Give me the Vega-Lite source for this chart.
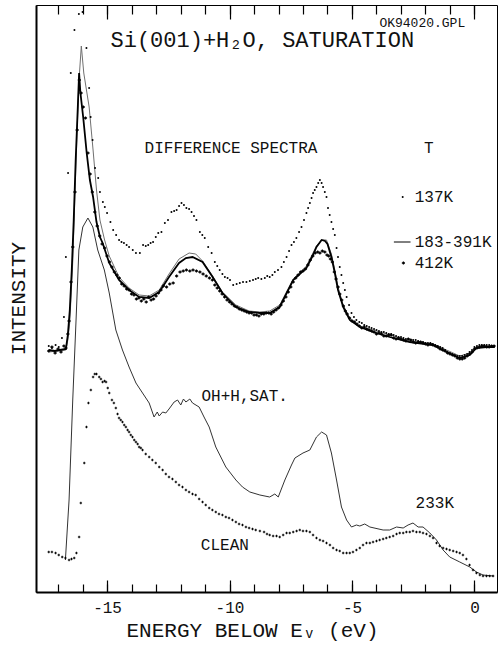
{
  "$schema": "https://vega.github.io/schema/vega-lite/v6.json",
  "width": 461,
  "height": 587,
  "autosize": {"type": "none"},
  "padding": {"left": 36, "top": 5, "right": 2, "bottom": 53},
  "background": "white",
  "config": {
    "font": "Liberation Mono",
    "view": {"stroke": "black", "strokeWidth": 1},
    "axis": {"grid": false, "labelFont": "Liberation Mono", "titleFont": "Liberation Mono", "labelColor": "#111111", "titleColor": "#111111", "tickColor": "black", "domainColor": "black", "titleFontWeight": "normal", "tickWidth": 1.2, "zindex": 2},
    "axisY": {"ticks": false, "labels": false, "domainWidth": 2, "titleFontSize": 21, "titleX": -18, "titleY": 293, "titleAngle": -90, "titleBaseline": "middle", "titleAlign": "center", "titlePadding": 0}
  },
  "datasets": {
    "s183a": [
      {"energy": -17.38, "intensity": 242}, {"energy": -17.13, "intensity": 241}, {"energy": -16.93, "intensity": 242}, {"energy": -16.68, "intensity": 243},
      {"energy": -16.60, "intensity": 257}, {"energy": -16.52, "intensity": 282}, {"energy": -16.44, "intensity": 322}, {"energy": -16.36, "intensity": 372},
      {"energy": -16.28, "intensity": 432}, {"energy": -16.19, "intensity": 487}, {"energy": -16.14, "intensity": 519}, {"energy": -16.09, "intensity": 500},
      {"energy": -15.97, "intensity": 474}, {"energy": -15.83, "intensity": 439}, {"energy": -15.70, "intensity": 412}, {"energy": -15.57, "intensity": 395},
      {"energy": -15.43, "intensity": 370}, {"energy": -15.29, "intensity": 355}, {"energy": -15.18, "intensity": 349}, {"energy": -14.91, "intensity": 329},
      {"energy": -14.51, "intensity": 312}, {"energy": -14.10, "intensity": 302}, {"energy": -13.69, "intensity": 295}, {"energy": -13.28, "intensity": 294},
      {"energy": -12.87, "intensity": 300}, {"energy": -12.47, "intensity": 315}, {"energy": -12.06, "intensity": 329}, {"energy": -11.78, "intensity": 334},
      {"energy": -11.51, "intensity": 335}, {"energy": -11.10, "intensity": 330}, {"energy": -10.69, "intensity": 315}, {"energy": -10.29, "intensity": 299},
      {"energy": -9.74, "intensity": 285}, {"energy": -9.20, "intensity": 280}, {"energy": -8.76, "intensity": 279}, {"energy": -8.36, "intensity": 279},
      {"energy": -7.95, "intensity": 285}, {"energy": -7.40, "intensity": 312}, {"energy": -6.86, "intensity": 324}, {"energy": -6.59, "intensity": 337},
      {"energy": -6.45, "intensity": 345}, {"energy": -6.24, "intensity": 352}, {"energy": -6.10, "intensity": 351}, {"energy": -6.00, "intensity": 348},
      {"energy": -5.84, "intensity": 335}, {"energy": -5.70, "intensity": 319}, {"energy": -5.57, "intensity": 302}, {"energy": -5.36, "intensity": 285},
      {"energy": -5.09, "intensity": 272}, {"energy": -4.68, "intensity": 265}, {"energy": -4.14, "intensity": 260}, {"energy": -3.46, "intensity": 255},
      {"energy": -2.64, "intensity": 250}, {"energy": -1.69, "intensity": 247}, {"energy": -1.14, "intensity": 240}, {"energy": -0.60, "intensity": 234},
      {"energy": -0.19, "intensity": 237}, {"energy": 0.08, "intensity": 244}, {"energy": 0.49, "intensity": 245}, {"energy": 0.83, "intensity": 245}
    ],
    "s183b": [
      {"energy": -17.38, "intensity": 240}, {"energy": -16.68, "intensity": 242}, {"energy": -16.60, "intensity": 252}, {"energy": -16.52, "intensity": 270},
      {"energy": -16.40, "intensity": 330}, {"energy": -16.28, "intensity": 420}, {"energy": -16.15, "intensity": 510}, {"energy": -16.05, "intensity": 546},
      {"energy": -15.95, "intensity": 519}, {"energy": -15.73, "intensity": 485}, {"energy": -15.57, "intensity": 442}, {"energy": -15.43, "intensity": 402},
      {"energy": -15.29, "intensity": 372}, {"energy": -15.10, "intensity": 352}, {"energy": -14.91, "intensity": 336}, {"energy": -14.51, "intensity": 315},
      {"energy": -14.10, "intensity": 304}, {"energy": -13.69, "intensity": 297}, {"energy": -13.28, "intensity": 296}, {"energy": -12.87, "intensity": 302},
      {"energy": -12.47, "intensity": 318}, {"energy": -12.06, "intensity": 333}, {"energy": -11.65, "intensity": 339}, {"energy": -11.38, "intensity": 338},
      {"energy": -11.10, "intensity": 331}, {"energy": -10.69, "intensity": 316}, {"energy": -10.29, "intensity": 300}, {"energy": -9.74, "intensity": 287},
      {"energy": -9.20, "intensity": 281}, {"energy": -8.76, "intensity": 280}, {"energy": -8.36, "intensity": 281}, {"energy": -7.95, "intensity": 287},
      {"energy": -7.40, "intensity": 313}, {"energy": -6.86, "intensity": 326}, {"energy": -6.45, "intensity": 346}, {"energy": -6.24, "intensity": 352},
      {"energy": -6.04, "intensity": 352}, {"energy": -5.84, "intensity": 338}, {"energy": -5.70, "intensity": 322}, {"energy": -5.57, "intensity": 305},
      {"energy": -5.36, "intensity": 287}, {"energy": -5.09, "intensity": 274}, {"energy": -4.68, "intensity": 266}, {"energy": -4.14, "intensity": 262},
      {"energy": -3.46, "intensity": 257}, {"energy": -2.64, "intensity": 251}, {"energy": -1.69, "intensity": 248}, {"energy": -1.14, "intensity": 242},
      {"energy": -0.60, "intensity": 236}, {"energy": -0.19, "intensity": 239}, {"energy": 0.08, "intensity": 245}, {"energy": 0.49, "intensity": 246},
      {"energy": 0.83, "intensity": 246}
    ],
    "s412": [
      {"energy": -17.38, "intensity": 241}, {"energy": -17.25, "intensity": 245}, {"energy": -17.12, "intensity": 239}, {"energy": -17.00, "intensity": 243},
      {"energy": -16.88, "intensity": 240}, {"energy": -16.76, "intensity": 246}, {"energy": -16.68, "intensity": 244}, {"energy": -16.60, "intensity": 258},
      {"energy": -16.55, "intensity": 271}, {"energy": -16.47, "intensity": 310}, {"energy": -16.40, "intensity": 345}, {"energy": -16.31, "intensity": 400},
      {"energy": -16.22, "intensity": 462}, {"energy": -16.13, "intensity": 512}, {"energy": -16.06, "intensity": 499}, {"energy": -15.97, "intensity": 485},
      {"energy": -15.88, "intensity": 474}, {"energy": -15.78, "intensity": 439}, {"energy": -15.69, "intensity": 418}, {"energy": -15.60, "intensity": 400},
      {"energy": -15.50, "intensity": 380}, {"energy": -15.40, "intensity": 366}, {"energy": -15.30, "intensity": 356}, {"energy": -15.20, "intensity": 348},
      {"energy": -15.10, "intensity": 344}, {"energy": -15.00, "intensity": 336}, {"energy": -14.90, "intensity": 330}, {"energy": -14.80, "intensity": 325},
      {"energy": -14.70, "intensity": 320}, {"energy": -14.60, "intensity": 317}, {"energy": -14.50, "intensity": 314}, {"energy": -14.40, "intensity": 308},
      {"energy": -14.30, "intensity": 306}, {"energy": -14.20, "intensity": 303}, {"energy": -14.10, "intensity": 302}, {"energy": -14.00, "intensity": 298},
      {"energy": -13.90, "intensity": 297}, {"energy": -13.80, "intensity": 293}, {"energy": -13.70, "intensity": 294}, {"energy": -13.60, "intensity": 291},
      {"energy": -13.50, "intensity": 293}, {"energy": -13.40, "intensity": 290}, {"energy": -13.30, "intensity": 295}, {"energy": -13.20, "intensity": 292},
      {"energy": -13.10, "intensity": 293}, {"energy": -13.00, "intensity": 296}, {"energy": -12.90, "intensity": 299}, {"energy": -12.80, "intensity": 302},
      {"energy": -12.70, "intensity": 306}, {"energy": -12.57, "intensity": 305}, {"energy": -12.44, "intensity": 308}, {"energy": -12.30, "intensity": 309},
      {"energy": -12.16, "intensity": 316}, {"energy": -12.02, "intensity": 320}, {"energy": -11.89, "intensity": 321}, {"energy": -11.76, "intensity": 322},
      {"energy": -11.62, "intensity": 321}, {"energy": -11.49, "intensity": 322}, {"energy": -11.35, "intensity": 321}, {"energy": -11.21, "intensity": 320},
      {"energy": -11.08, "intensity": 318}, {"energy": -10.95, "intensity": 316}, {"energy": -10.82, "intensity": 314}, {"energy": -10.70, "intensity": 312},
      {"energy": -10.60, "intensity": 307}, {"energy": -10.50, "intensity": 304}, {"energy": -10.40, "intensity": 301}, {"energy": -10.30, "intensity": 298},
      {"energy": -10.20, "intensity": 295}, {"energy": -10.10, "intensity": 292}, {"energy": -10.00, "intensity": 290}, {"energy": -9.90, "intensity": 288},
      {"energy": -9.80, "intensity": 286}, {"energy": -9.70, "intensity": 285}, {"energy": -9.60, "intensity": 283}, {"energy": -9.50, "intensity": 282},
      {"energy": -9.40, "intensity": 281}, {"energy": -9.30, "intensity": 280}, {"energy": -9.20, "intensity": 279}, {"energy": -9.10, "intensity": 279},
      {"energy": -9.00, "intensity": 277}, {"energy": -8.90, "intensity": 277}, {"energy": -8.80, "intensity": 276}, {"energy": -8.70, "intensity": 278},
      {"energy": -8.60, "intensity": 278}, {"energy": -8.50, "intensity": 279}, {"energy": -8.40, "intensity": 279}, {"energy": -8.30, "intensity": 278},
      {"energy": -8.20, "intensity": 280}, {"energy": -8.10, "intensity": 282}, {"energy": -8.00, "intensity": 284}, {"energy": -7.90, "intensity": 287},
      {"energy": -7.80, "intensity": 291}, {"energy": -7.70, "intensity": 295}, {"energy": -7.60, "intensity": 300}, {"energy": -7.50, "intensity": 305},
      {"energy": -7.40, "intensity": 310}, {"energy": -7.30, "intensity": 314}, {"energy": -7.20, "intensity": 317}, {"energy": -7.10, "intensity": 320},
      {"energy": -7.00, "intensity": 321}, {"energy": -6.90, "intensity": 323}, {"energy": -6.80, "intensity": 327}, {"energy": -6.70, "intensity": 332},
      {"energy": -6.60, "intensity": 336}, {"energy": -6.50, "intensity": 339}, {"energy": -6.40, "intensity": 340}, {"energy": -6.31, "intensity": 339},
      {"energy": -6.21, "intensity": 341}, {"energy": -6.11, "intensity": 340}, {"energy": -6.02, "intensity": 337}, {"energy": -5.95, "intensity": 336},
      {"energy": -5.88, "intensity": 333}, {"energy": -5.80, "intensity": 330}, {"energy": -5.72, "intensity": 320}, {"energy": -5.65, "intensity": 313},
      {"energy": -5.57, "intensity": 305}, {"energy": -5.50, "intensity": 298}, {"energy": -5.42, "intensity": 292}, {"energy": -5.35, "intensity": 286},
      {"energy": -5.27, "intensity": 281}, {"energy": -5.20, "intensity": 278}, {"energy": -5.10, "intensity": 274}, {"energy": -5.00, "intensity": 271},
      {"energy": -4.90, "intensity": 270}, {"energy": -4.80, "intensity": 268}, {"energy": -4.70, "intensity": 266}, {"energy": -4.60, "intensity": 264},
      {"energy": -4.50, "intensity": 265}, {"energy": -4.40, "intensity": 263}, {"energy": -4.30, "intensity": 262}, {"energy": -4.20, "intensity": 261},
      {"energy": -4.10, "intensity": 260}, {"energy": -4.00, "intensity": 258}, {"energy": -3.90, "intensity": 259}, {"energy": -3.80, "intensity": 258},
      {"energy": -3.70, "intensity": 256}, {"energy": -3.60, "intensity": 256}, {"energy": -3.50, "intensity": 257}, {"energy": -3.40, "intensity": 257},
      {"energy": -3.30, "intensity": 254}, {"energy": -3.20, "intensity": 253}, {"energy": -3.10, "intensity": 254}, {"energy": -3.00, "intensity": 253},
      {"energy": -2.90, "intensity": 252}, {"energy": -2.80, "intensity": 251}, {"energy": -2.70, "intensity": 253}, {"energy": -2.60, "intensity": 252},
      {"energy": -2.50, "intensity": 250}, {"energy": -2.40, "intensity": 249}, {"energy": -2.30, "intensity": 250}, {"energy": -2.20, "intensity": 250},
      {"energy": -2.10, "intensity": 249}, {"energy": -2.00, "intensity": 248}, {"energy": -1.90, "intensity": 247}, {"energy": -1.80, "intensity": 248},
      {"energy": -1.70, "intensity": 247}, {"energy": -1.60, "intensity": 246}, {"energy": -1.50, "intensity": 245}, {"energy": -1.40, "intensity": 243},
      {"energy": -1.30, "intensity": 242}, {"energy": -1.20, "intensity": 241}, {"energy": -1.10, "intensity": 239}, {"energy": -1.00, "intensity": 238},
      {"energy": -0.90, "intensity": 237}, {"energy": -0.80, "intensity": 236}, {"energy": -0.70, "intensity": 234}, {"energy": -0.60, "intensity": 233},
      {"energy": -0.50, "intensity": 233}, {"energy": -0.40, "intensity": 234}, {"energy": -0.30, "intensity": 236}, {"energy": -0.20, "intensity": 238},
      {"energy": -0.10, "intensity": 240}, {"energy": 0.00, "intensity": 243}, {"energy": 0.10, "intensity": 244}, {"energy": 0.20, "intensity": 245},
      {"energy": 0.30, "intensity": 246}, {"energy": 0.40, "intensity": 246}, {"energy": 0.50, "intensity": 245}, {"energy": 0.60, "intensity": 245},
      {"energy": 0.70, "intensity": 246}, {"energy": 0.80, "intensity": 246}
    ],
    "s137": [
      {"energy": -17.38, "intensity": 246}, {"energy": -17.25, "intensity": 244}, {"energy": -17.10, "intensity": 247}, {"energy": -16.97, "intensity": 245},
      {"energy": -16.84, "intensity": 254}, {"energy": -16.76, "intensity": 275}, {"energy": -16.68, "intensity": 335}, {"energy": -16.59, "intensity": 419},
      {"energy": -16.48, "intensity": 519}, {"energy": -16.33, "intensity": 562}, {"energy": -16.15, "intensity": 578}, {"energy": -16.00, "intensity": 580},
      {"energy": -15.84, "intensity": 544}, {"energy": -15.73, "intensity": 504}, {"energy": -15.67, "intensity": 475}, {"energy": -15.59, "intensity": 452},
      {"energy": -15.49, "intensity": 424}, {"energy": -15.36, "intensity": 414}, {"energy": -15.29, "intensity": 400}, {"energy": -15.17, "intensity": 390},
      {"energy": -15.09, "intensity": 385}, {"energy": -15.00, "intensity": 379}, {"energy": -14.86, "intensity": 370}, {"energy": -14.75, "intensity": 362},
      {"energy": -14.63, "intensity": 357}, {"energy": -14.51, "intensity": 352}, {"energy": -14.41, "intensity": 350}, {"energy": -14.31, "intensity": 349},
      {"energy": -14.20, "intensity": 347}, {"energy": -14.10, "intensity": 345}, {"energy": -13.95, "intensity": 342}, {"energy": -13.82, "intensity": 339},
      {"energy": -13.66, "intensity": 339}, {"energy": -13.53, "intensity": 347}, {"energy": -13.42, "intensity": 346}, {"energy": -13.32, "intensity": 347},
      {"energy": -13.22, "intensity": 349}, {"energy": -13.12, "intensity": 350}, {"energy": -13.01, "intensity": 355}, {"energy": -12.91, "intensity": 359},
      {"energy": -12.78, "intensity": 360}, {"energy": -12.64, "intensity": 369}, {"energy": -12.51, "intensity": 372}, {"energy": -12.37, "intensity": 380},
      {"energy": -12.26, "intensity": 381}, {"energy": -12.16, "intensity": 382}, {"energy": -12.06, "intensity": 386}, {"energy": -11.96, "intensity": 389},
      {"energy": -11.86, "intensity": 387}, {"energy": -11.76, "intensity": 384}, {"energy": -11.65, "intensity": 383}, {"energy": -11.55, "intensity": 380},
      {"energy": -11.45, "intensity": 376}, {"energy": -11.35, "intensity": 372}, {"energy": -11.21, "intensity": 360}, {"energy": -11.11, "intensity": 357},
      {"energy": -11.01, "intensity": 354}, {"energy": -10.87, "intensity": 345}, {"energy": -10.73, "intensity": 339}, {"energy": -10.60, "intensity": 330},
      {"energy": -10.50, "intensity": 326}, {"energy": -10.40, "intensity": 322}, {"energy": -10.29, "intensity": 318}, {"energy": -10.19, "intensity": 315},
      {"energy": -10.08, "intensity": 314}, {"energy": -9.98, "intensity": 312}, {"energy": -9.85, "intensity": 307}, {"energy": -9.71, "intensity": 308},
      {"energy": -9.58, "intensity": 309}, {"energy": -9.45, "intensity": 310}, {"energy": -9.31, "intensity": 310}, {"energy": -9.17, "intensity": 311},
      {"energy": -9.04, "intensity": 312}, {"energy": -8.93, "intensity": 313}, {"energy": -8.83, "intensity": 314}, {"energy": -8.70, "intensity": 313},
      {"energy": -8.56, "intensity": 314}, {"energy": -8.46, "intensity": 316}, {"energy": -8.36, "intensity": 315}, {"energy": -8.25, "intensity": 317},
      {"energy": -8.15, "intensity": 320}, {"energy": -8.02, "intensity": 322}, {"energy": -7.88, "intensity": 325}, {"energy": -7.78, "intensity": 330},
      {"energy": -7.67, "intensity": 335}, {"energy": -7.57, "intensity": 341}, {"energy": -7.47, "intensity": 347}, {"energy": -7.37, "intensity": 350},
      {"energy": -7.27, "intensity": 354}, {"energy": -7.16, "intensity": 360}, {"energy": -7.06, "intensity": 365}, {"energy": -6.96, "intensity": 372},
      {"energy": -6.86, "intensity": 379}, {"energy": -6.79, "intensity": 384}, {"energy": -6.72, "intensity": 389}, {"energy": -6.65, "intensity": 394},
      {"energy": -6.59, "intensity": 399}, {"energy": -6.52, "intensity": 402}, {"energy": -6.45, "intensity": 405}, {"energy": -6.38, "intensity": 409},
      {"energy": -6.31, "intensity": 412}, {"energy": -6.24, "intensity": 409}, {"energy": -6.18, "intensity": 405}, {"energy": -6.11, "intensity": 400},
      {"energy": -6.04, "intensity": 395}, {"energy": -5.98, "intensity": 384}, {"energy": -5.91, "intensity": 377}, {"energy": -5.84, "intensity": 370},
      {"energy": -5.77, "intensity": 363}, {"energy": -5.70, "intensity": 357}, {"energy": -5.63, "intensity": 344}, {"energy": -5.57, "intensity": 335},
      {"energy": -5.50, "intensity": 325}, {"energy": -5.43, "intensity": 317}, {"energy": -5.36, "intensity": 309}, {"energy": -5.29, "intensity": 302},
      {"energy": -5.22, "intensity": 295}, {"energy": -5.12, "intensity": 287}, {"energy": -5.02, "intensity": 279}, {"energy": -4.92, "intensity": 275},
      {"energy": -4.82, "intensity": 272}, {"energy": -4.70, "intensity": 270}, {"energy": -4.60, "intensity": 269}, {"energy": -4.50, "intensity": 267},
      {"energy": -4.40, "intensity": 266}, {"energy": -4.30, "intensity": 265}, {"energy": -4.20, "intensity": 264}, {"energy": -4.10, "intensity": 263},
      {"energy": -4.00, "intensity": 262}, {"energy": -3.90, "intensity": 261}, {"energy": -3.80, "intensity": 260}, {"energy": -3.70, "intensity": 260},
      {"energy": -3.60, "intensity": 259}, {"energy": -3.50, "intensity": 258}, {"energy": -3.40, "intensity": 258}, {"energy": -3.30, "intensity": 257},
      {"energy": -3.20, "intensity": 256}, {"energy": -3.10, "intensity": 255}, {"energy": -3.00, "intensity": 255}, {"energy": -2.90, "intensity": 254},
      {"energy": -2.80, "intensity": 253}, {"energy": -2.70, "intensity": 253}, {"energy": -2.60, "intensity": 252}, {"energy": -2.50, "intensity": 252},
      {"energy": -2.40, "intensity": 252}, {"energy": -2.30, "intensity": 251}, {"energy": -2.20, "intensity": 250}, {"energy": -2.10, "intensity": 250},
      {"energy": -2.00, "intensity": 249}, {"energy": -1.90, "intensity": 249}, {"energy": -1.80, "intensity": 249}, {"energy": -1.70, "intensity": 248},
      {"energy": -1.60, "intensity": 247}, {"energy": -1.50, "intensity": 246}, {"energy": -1.40, "intensity": 245}, {"energy": -1.30, "intensity": 244},
      {"energy": -1.20, "intensity": 242}, {"energy": -1.10, "intensity": 240}, {"energy": -1.00, "intensity": 239}, {"energy": -0.90, "intensity": 238},
      {"energy": -0.80, "intensity": 237}, {"energy": -0.70, "intensity": 236}, {"energy": -0.60, "intensity": 236}, {"energy": -0.50, "intensity": 236},
      {"energy": -0.40, "intensity": 237}, {"energy": -0.30, "intensity": 238}, {"energy": -0.20, "intensity": 240}, {"energy": -0.10, "intensity": 242},
      {"energy": 0.00, "intensity": 245}, {"energy": 0.10, "intensity": 246}, {"energy": 0.20, "intensity": 247}, {"energy": 0.30, "intensity": 247},
      {"energy": 0.40, "intensity": 247}, {"energy": 0.50, "intensity": 247}, {"energy": 0.60, "intensity": 247}, {"energy": 0.70, "intensity": 246},
      {"energy": 0.80, "intensity": 246}
    ],
    "oh": [
      {"energy": -16.70, "intensity": 32}, {"energy": -16.55, "intensity": 92}, {"energy": -16.40, "intensity": 192}, {"energy": -16.26, "intensity": 275},
      {"energy": -16.15, "intensity": 342}, {"energy": -15.99, "intensity": 365}, {"energy": -15.78, "intensity": 374}, {"energy": -15.58, "intensity": 365},
      {"energy": -15.38, "intensity": 342}, {"energy": -15.11, "intensity": 322}, {"energy": -14.91, "intensity": 299}, {"energy": -14.64, "intensity": 262},
      {"energy": -14.37, "intensity": 242}, {"energy": -14.10, "intensity": 225}, {"energy": -13.82, "intensity": 209}, {"energy": -13.55, "intensity": 199},
      {"energy": -13.28, "intensity": 189}, {"energy": -13.08, "intensity": 175}, {"energy": -12.95, "intensity": 180}, {"energy": -12.87, "intensity": 176},
      {"energy": -12.73, "intensity": 180}, {"energy": -12.60, "intensity": 179}, {"energy": -12.47, "intensity": 183}, {"energy": -12.26, "intensity": 190},
      {"energy": -12.12, "intensity": 192}, {"energy": -11.99, "intensity": 187}, {"energy": -11.88, "intensity": 193}, {"energy": -11.78, "intensity": 190},
      {"energy": -11.62, "intensity": 193}, {"energy": -11.51, "intensity": 189}, {"energy": -11.24, "intensity": 185}, {"energy": -11.04, "intensity": 175},
      {"energy": -10.83, "intensity": 165}, {"energy": -10.56, "intensity": 145}, {"energy": -10.15, "intensity": 125}, {"energy": -9.74, "intensity": 112},
      {"energy": -9.47, "intensity": 105}, {"energy": -9.17, "intensity": 100}, {"energy": -8.76, "intensity": 97}, {"energy": -8.36, "intensity": 95},
      {"energy": -8.15, "intensity": 98}, {"energy": -8.01, "intensity": 95}, {"energy": -7.74, "intensity": 112}, {"energy": -7.47, "intensity": 127},
      {"energy": -7.33, "intensity": 134}, {"energy": -7.00, "intensity": 139}, {"energy": -6.72, "intensity": 142}, {"energy": -6.45, "intensity": 155},
      {"energy": -6.24, "intensity": 160}, {"energy": -6.04, "intensity": 157}, {"energy": -5.84, "intensity": 139}, {"energy": -5.63, "intensity": 112},
      {"energy": -5.43, "intensity": 85}, {"energy": -5.22, "intensity": 72}, {"energy": -5.02, "intensity": 65}, {"energy": -4.82, "intensity": 67},
      {"energy": -4.68, "intensity": 66}, {"energy": -4.48, "intensity": 68}, {"energy": -4.27, "intensity": 65}, {"energy": -3.73, "intensity": 62},
      {"energy": -3.46, "intensity": 62}, {"energy": -3.18, "intensity": 65}, {"energy": -2.91, "intensity": 64}, {"energy": -2.71, "intensity": 67},
      {"energy": -2.51, "intensity": 69}, {"energy": -2.30, "intensity": 65}, {"energy": -2.10, "intensity": 65}, {"energy": -1.82, "intensity": 59},
      {"energy": -1.55, "intensity": 52}, {"energy": -1.28, "intensity": 42}, {"energy": -1.01, "intensity": 35}, {"energy": -0.60, "intensity": 30},
      {"energy": -0.19, "intensity": 25}, {"energy": 0.08, "intensity": 20}, {"energy": 0.35, "intensity": 17}, {"energy": 0.76, "intensity": 16}
    ],
    "clean": [
      {"energy": -17.38, "intensity": 40}, {"energy": -17.25, "intensity": 40}, {"energy": -17.10, "intensity": 39}, {"energy": -16.97, "intensity": 37},
      {"energy": -16.83, "intensity": 35}, {"energy": -16.70, "intensity": 34}, {"energy": -16.55, "intensity": 32}, {"energy": -16.45, "intensity": 33},
      {"energy": -16.34, "intensity": 34}, {"energy": -16.25, "intensity": 39}, {"energy": -16.14, "intensity": 55}, {"energy": -16.07, "intensity": 89},
      {"energy": -15.93, "intensity": 129}, {"energy": -15.84, "intensity": 165}, {"energy": -15.76, "intensity": 189}, {"energy": -15.66, "intensity": 202},
      {"energy": -15.57, "intensity": 215}, {"energy": -15.50, "intensity": 218}, {"energy": -15.43, "intensity": 218}, {"energy": -15.32, "intensity": 215},
      {"energy": -15.25, "intensity": 213}, {"energy": -15.18, "intensity": 210}, {"energy": -15.10, "intensity": 211}, {"energy": -15.04, "intensity": 210},
      {"energy": -14.97, "intensity": 204}, {"energy": -14.91, "intensity": 199}, {"energy": -14.80, "intensity": 192}, {"energy": -14.72, "intensity": 189},
      {"energy": -14.64, "intensity": 184}, {"energy": -14.57, "intensity": 178}, {"energy": -14.51, "intensity": 174}, {"energy": -14.44, "intensity": 172},
      {"energy": -14.37, "intensity": 170}, {"energy": -14.30, "intensity": 167}, {"energy": -14.23, "intensity": 165}, {"energy": -14.16, "intensity": 162},
      {"energy": -14.10, "intensity": 160}, {"energy": -14.03, "intensity": 157}, {"energy": -13.96, "intensity": 155}, {"energy": -13.89, "intensity": 152},
      {"energy": -13.82, "intensity": 150}, {"energy": -13.75, "intensity": 148}, {"energy": -13.69, "intensity": 145}, {"energy": -13.62, "intensity": 144},
      {"energy": -13.55, "intensity": 142}, {"energy": -13.42, "intensity": 138}, {"energy": -13.28, "intensity": 135}, {"energy": -13.15, "intensity": 132},
      {"energy": -13.01, "intensity": 129}, {"energy": -12.87, "intensity": 125}, {"energy": -12.73, "intensity": 122}, {"energy": -12.60, "intensity": 118},
      {"energy": -12.47, "intensity": 115}, {"energy": -12.33, "intensity": 113}, {"energy": -12.19, "intensity": 110}, {"energy": -12.06, "intensity": 107},
      {"energy": -11.92, "intensity": 105}, {"energy": -11.78, "intensity": 102}, {"energy": -11.65, "intensity": 100}, {"energy": -11.51, "intensity": 98},
      {"energy": -11.38, "intensity": 97}, {"energy": -11.24, "intensity": 93}, {"energy": -11.10, "intensity": 90}, {"energy": -10.97, "intensity": 87},
      {"energy": -10.83, "intensity": 84}, {"energy": -10.70, "intensity": 82}, {"energy": -10.56, "intensity": 80}, {"energy": -10.43, "intensity": 78},
      {"energy": -10.29, "intensity": 77}, {"energy": -10.15, "intensity": 75}, {"energy": -10.02, "intensity": 74}, {"energy": -9.88, "intensity": 72},
      {"energy": -9.74, "intensity": 70}, {"energy": -9.61, "intensity": 68}, {"energy": -9.47, "intensity": 67}, {"energy": -9.33, "intensity": 65},
      {"energy": -9.20, "intensity": 64}, {"energy": -9.06, "intensity": 63}, {"energy": -8.93, "intensity": 62}, {"energy": -8.76, "intensity": 61},
      {"energy": -8.59, "intensity": 60}, {"energy": -8.47, "intensity": 58}, {"energy": -8.36, "intensity": 57}, {"energy": -8.22, "intensity": 56},
      {"energy": -8.08, "intensity": 56}, {"energy": -7.95, "intensity": 55}, {"energy": -7.81, "intensity": 57}, {"energy": -7.67, "intensity": 59},
      {"energy": -7.54, "intensity": 59}, {"energy": -7.40, "intensity": 60}, {"energy": -7.26, "intensity": 61}, {"energy": -7.13, "intensity": 62},
      {"energy": -7.00, "intensity": 61}, {"energy": -6.86, "intensity": 61}, {"energy": -6.72, "intensity": 60}, {"energy": -6.59, "intensity": 57},
      {"energy": -6.45, "intensity": 54}, {"energy": -6.31, "intensity": 52}, {"energy": -6.18, "intensity": 51}, {"energy": -6.04, "intensity": 49},
      {"energy": -5.90, "intensity": 47}, {"energy": -5.77, "intensity": 44}, {"energy": -5.63, "intensity": 42}, {"energy": -5.50, "intensity": 41},
      {"energy": -5.36, "intensity": 39}, {"energy": -5.22, "intensity": 39}, {"energy": -5.09, "intensity": 39}, {"energy": -4.96, "intensity": 40},
      {"energy": -4.82, "intensity": 42}, {"energy": -4.68, "intensity": 44}, {"energy": -4.55, "intensity": 47}, {"energy": -4.41, "intensity": 49},
      {"energy": -4.27, "intensity": 49}, {"energy": -4.14, "intensity": 50}, {"energy": -4.00, "intensity": 51}, {"energy": -3.87, "intensity": 52},
      {"energy": -3.73, "intensity": 53}, {"energy": -3.60, "intensity": 54}, {"energy": -3.46, "intensity": 55}, {"energy": -3.32, "intensity": 56},
      {"energy": -3.18, "intensity": 58}, {"energy": -3.05, "intensity": 59}, {"energy": -2.91, "intensity": 59}, {"energy": -2.78, "intensity": 60},
      {"energy": -2.64, "intensity": 60}, {"energy": -2.51, "intensity": 61}, {"energy": -2.37, "intensity": 60}, {"energy": -2.23, "intensity": 60},
      {"energy": -2.10, "intensity": 59}, {"energy": -1.96, "intensity": 58}, {"energy": -1.82, "intensity": 56}, {"energy": -1.69, "intensity": 54},
      {"energy": -1.55, "intensity": 49}, {"energy": -1.42, "intensity": 46}, {"energy": -1.28, "intensity": 44}, {"energy": -1.14, "intensity": 43},
      {"energy": -1.01, "intensity": 42}, {"energy": -0.87, "intensity": 41}, {"energy": -0.73, "intensity": 40}, {"energy": -0.60, "intensity": 39},
      {"energy": -0.47, "intensity": 37}, {"energy": -0.33, "intensity": 33}, {"energy": -0.20, "intensity": 27}, {"energy": -0.06, "intensity": 22},
      {"energy": 0.08, "intensity": 19}, {"energy": 0.22, "intensity": 17}, {"energy": 0.35, "intensity": 16}, {"energy": 0.49, "intensity": 16},
      {"energy": 0.62, "intensity": 16}, {"energy": 0.76, "intensity": 16}
    ]
  },
  "resolve": {"axis": {"x": "independent"}},
  "layer": [
    {
      "data": {"name": "s183b"},
      "mark": {"type": "line", "color": "#707070", "strokeWidth": 1},
      "encoding": {
        "x": {"field": "energy", "type": "quantitative", "scale": {"domain": [-17.9, 0.92], "nice": false, "zero": false},
              "axis": {"orient": "bottom", "values": [-17,-16,-15,-14,-13,-12,-11,-10,-9,-8,-7,-6,-5,-4,-3,-2,-1,0], "tickSize": 8, "offset": -8, "labels": false, "domain": false, "title": null}},
        "y": {"field": "intensity", "type": "quantitative", "scale": {"domain": [0, 587], "nice": false, "zero": false}, "title": "INTENSITY"}
      }
    },
    {
      "data": {"name": "s183a"},
      "mark": {"type": "line", "color": "black", "strokeWidth": 1.8},
      "encoding": {
        "x": {"field": "energy", "type": "quantitative", "scale": {"domain": [-17.9, 0.92], "nice": false, "zero": false},
              "axis": {"orient": "top", "values": [-15,-10,-5,0], "tickSize": 14, "offset": -14, "labels": false, "domain": false, "title": null}},
        "y": {"field": "intensity", "type": "quantitative", "scale": {"domain": [0, 587], "nice": false, "zero": false}, "title": "INTENSITY"}
      }
    },
    {
      "data": {"name": "s412"},
      "mark": {"type": "point", "shape": "cross", "filled": true, "color": "black", "size": 10, "opacity": 1},
      "encoding": {
        "x": {"field": "energy", "type": "quantitative", "scale": {"domain": [-17.9, 0.92], "nice": false, "zero": false},
              "axis": {"orient": "top", "values": [-17,-16,-15,-14,-13,-12,-11,-10,-9,-8,-7,-6,-5,-4,-3,-2,-1,0], "tickSize": 9, "offset": -9, "labels": false, "domain": false, "title": null}},
        "y": {"field": "intensity", "type": "quantitative", "scale": {"domain": [0, 587], "nice": false, "zero": false}, "title": "INTENSITY"}
      }
    },
    {
      "data": {"name": "s137"},
      "mark": {"type": "point", "shape": "circle", "filled": true, "color": "black", "size": 4, "opacity": 1},
      "encoding": {
        "x": {"field": "energy", "type": "quantitative", "scale": {"domain": [-17.9, 0.92], "nice": false, "zero": false},
              "axis": {"orient": "bottom", "values": [-15,-10,-5,0], "tickSize": -12, "domain": true, "domainWidth": 2,
                       "labelFontSize": 16, "labelBaseline": "alphabetic", "labelPadding": 32, "labelExpr": "replace(datum.label, '−', '-')",
                       "title": "ENERGY BELOW Eᵥ (eV)", "titleFontSize": 21, "titleX": 216, "titleY": 44, "titleBaseline": "alphabetic", "titleAlign": "center"}},
        "y": {"field": "intensity", "type": "quantitative", "scale": {"domain": [0, 587], "nice": false, "zero": false}, "title": "INTENSITY"}
      }
    },
    {
      "data": {"name": "oh"},
      "mark": {"type": "line", "color": "#333333", "strokeWidth": 1},
      "encoding": {
        "x": {"field": "energy", "type": "quantitative", "scale": {"domain": [-17.9, 0.92], "nice": false, "zero": false}, "axis": null},
        "y": {"field": "intensity", "type": "quantitative", "scale": {"domain": [0, 587], "nice": false, "zero": false}, "title": "INTENSITY"}
      }
    },
    {
      "data": {"name": "clean"},
      "mark": {"type": "point", "shape": "cross", "filled": true, "color": "black", "size": 6, "opacity": 1},
      "encoding": {
        "x": {"field": "energy", "type": "quantitative", "scale": {"domain": [-17.9, 0.92], "nice": false, "zero": false}, "axis": null},
        "y": {"field": "intensity", "type": "quantitative", "scale": {"domain": [0, 587], "nice": false, "zero": false}, "title": "INTENSITY"}
      }
    },
    {
      "data": {"values": [{"label": "Si(001)+H₂O, SATURATION", "energy": -8.66, "intensity": 552}]},
      "mark": {"type": "text", "font": "Liberation Mono", "fontSize": 22, "align": "center", "baseline": "middle", "color": "#111111"},
      "encoding": {
        "x": {"field": "energy", "type": "quantitative", "scale": {"domain": [-17.9, 0.92], "nice": false, "zero": false}, "axis": null},
        "y": {"field": "intensity", "type": "quantitative", "scale": {"domain": [0, 587], "nice": false, "zero": false}, "title": "INTENSITY"},
        "text": {"field": "label"}
      }
    },
    {
      "data": {"values": [{"label": "OK94020.GPL", "energy": -2.13, "intensity": 569}]},
      "mark": {"type": "text", "font": "Liberation Mono", "fontSize": 13, "align": "center", "baseline": "middle", "color": "#111111"},
      "encoding": {
        "x": {"field": "energy", "type": "quantitative", "scale": {"domain": [-17.9, 0.92], "nice": false, "zero": false}, "axis": null},
        "y": {"field": "intensity", "type": "quantitative", "scale": {"domain": [0, 587], "nice": false, "zero": false}, "title": "INTENSITY"},
        "text": {"field": "label"}
      }
    },
    {
      "data": {"values": [
        {"label": "DIFFERENCE SPECTRA", "energy": -9.94, "intensity": 444},
        {"label": "T", "energy": -1.86, "intensity": 444},
        {"label": "OH+H,SAT.", "energy": -9.38, "intensity": 196},
        {"label": "233K", "energy": -1.62, "intensity": 89},
        {"label": "CLEAN", "energy": -10.19, "intensity": 47}
      ]},
      "mark": {"type": "text", "font": "Liberation Mono", "fontSize": 16, "align": "center", "baseline": "middle", "color": "#111111"},
      "encoding": {
        "x": {"field": "energy", "type": "quantitative", "scale": {"domain": [-17.9, 0.92], "nice": false, "zero": false}, "axis": null},
        "y": {"field": "intensity", "type": "quantitative", "scale": {"domain": [0, 587], "nice": false, "zero": false}, "title": "INTENSITY"},
        "text": {"field": "label"}
      }
    },
    {
      "data": {"values": [
        {"label": "137K", "energy": -2.44, "intensity": 395},
        {"label": "183-391K", "energy": -2.44, "intensity": 350},
        {"label": "412K", "energy": -2.44, "intensity": 329}
      ]},
      "mark": {"type": "text", "font": "Liberation Mono", "fontSize": 16, "align": "left", "baseline": "middle", "color": "#111111"},
      "encoding": {
        "x": {"field": "energy", "type": "quantitative", "scale": {"domain": [-17.9, 0.92], "nice": false, "zero": false}, "axis": null},
        "y": {"field": "intensity", "type": "quantitative", "scale": {"domain": [0, 587], "nice": false, "zero": false}, "title": "INTENSITY"},
        "text": {"field": "label"}
      }
    },
    {
      "data": {"values": [{"energy": -3.29, "energy2": -2.61, "intensity": 350}]},
      "mark": {"type": "rule", "color": "black", "strokeWidth": 1},
      "encoding": {
        "x": {"field": "energy", "type": "quantitative", "scale": {"domain": [-17.9, 0.92], "nice": false, "zero": false}, "axis": null},
        "x2": {"field": "energy2"},
        "y": {"field": "intensity", "type": "quantitative", "scale": {"domain": [0, 587], "nice": false, "zero": false}, "title": "INTENSITY"}
      }
    },
    {
      "data": {"values": [{"energy": -2.93, "intensity": 395}]},
      "mark": {"type": "point", "shape": "circle", "filled": true, "color": "black", "size": 4, "opacity": 1},
      "encoding": {
        "x": {"field": "energy", "type": "quantitative", "scale": {"domain": [-17.9, 0.92], "nice": false, "zero": false}, "axis": null},
        "y": {"field": "intensity", "type": "quantitative", "scale": {"domain": [0, 587], "nice": false, "zero": false}, "title": "INTENSITY"}
      }
    },
    {
      "data": {"values": [{"energy": -2.90, "intensity": 329}]},
      "mark": {"type": "point", "shape": "cross", "filled": true, "color": "black", "size": 10, "opacity": 1},
      "encoding": {
        "x": {"field": "energy", "type": "quantitative", "scale": {"domain": [-17.9, 0.92], "nice": false, "zero": false}, "axis": null},
        "y": {"field": "intensity", "type": "quantitative", "scale": {"domain": [0, 587], "nice": false, "zero": false}, "title": "INTENSITY"}
      }
    }
  ]
}
